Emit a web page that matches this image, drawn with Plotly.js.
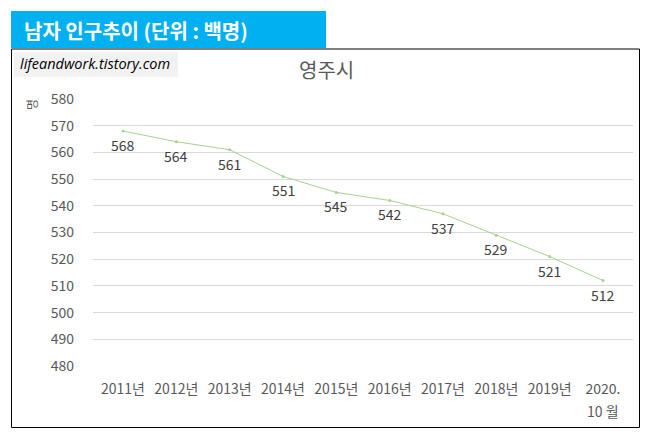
<!DOCTYPE html>
<html>
<head>
<meta charset="utf-8">
<script src="https://cdn.plot.ly/plotly-3.0.1.min.js"></script>
<style>html,body{margin:0;padding:0;background:#fff;}#chart{width:651px;height:437px;}</style>
</head>
<body>
<div id="chart"></div>
<script>
const categories = ['2011년','2012년','2013년','2014년','2015년','2016년','2017년','2018년','2019년','2020.<br>10 월'];
const values = [568, 564, 561, 551, 545, 542, 537, 529, 521, 512];
const yTicks = [480, 490, 500, 510, 520, 530, 540, 550, 560, 570, 580];
const headerText = '남자 인구추이 (단위 : 백명)';
const chartTitle = '영주시';
const watermark = 'lifeandwork.tistory.com';
const unitLabel = '명';

const FONT = '"Noto Sans CJK KR", "Noto Sans", sans-serif';
// plot area pixels: x 93..633, y 99..366
const L = 93, R = 633, T = 99, B = 366;
const px = x => (x - L) / (R - L);
const py = y => (B - y) / (B - T);

const firstLines = categories.map(c => c.split('<br>')[0]);
const secondLines = categories.map(c => c.split('<br>')[1] || '');

const trace = {
  x: categories,
  y: values,
  type: 'scatter',
  mode: 'lines+markers',
  line: {color: '#a9d18e', width: 1},
  marker: {color: '#a9d18e', size: 3},
  cliponaxis: false,
  hoverinfo: 'none'
};

const dataLabels = categories.map((c, i) => ({
  x: c, y: values[i], xref: 'x', yref: 'y',
  text: String(values[i]), showarrow: false,
  xanchor: 'center', yanchor: 'middle', yshift: -14,
  font: {family: FONT, size: 14, color: '#404040'}
}));

const secondLineLabels = categories.map((c, i) => ({c, s: secondLines[i]}))
  .filter(o => o.s)
  .map(o => ({
    x: o.c, xref: 'x', yref: 'paper', y: py(411),
    text: o.s, showarrow: false, xanchor: 'center', yanchor: 'middle',
    font: {family: FONT, size: 14, color: '#595959'}
  }));

const layout = {
  width: 651, height: 437,
  margin: {l: L, r: 651 - R, t: T, b: 437 - B},
  paper_bgcolor: '#ffffff',
  plot_bgcolor: '#ffffff',
  showlegend: false,
  font: {family: FONT, color: '#595959', size: 14},
  xaxis: {
    type: 'category',
    tickvals: categories, ticktext: firstLines,
    showgrid: false, zeroline: false, showline: false,
    ticks: '', tickfont: {family: FONT, size: 14, color: '#595959'},
    ticklabelstandoff: 13
  },
  yaxis: {
    range: [480, 580],
    tickvals: yTicks,
    showgrid: true, gridcolor: '#d9d9d9', gridwidth: 1,
    zeroline: false, showline: false, ticks: '',
    tickfont: {family: FONT, size: 14, color: '#595959'},
    ticklabelstandoff: 18
  },
  shapes: [
    {type: 'rect', xref: 'paper', yref: 'paper', x0: px(11.5), x1: px(639.5), y0: py(427.5), y1: py(49), line: {color: '#000000', width: 1}, fillcolor: 'rgba(0,0,0,0)', layer: 'below'},
    {type: 'rect', xref: 'paper', yref: 'paper', x0: px(11), x1: px(326), y0: py(48), y1: py(11), line: {width: 0}, fillcolor: '#00b0f0', layer: 'below'},
    {type: 'rect', xref: 'paper', yref: 'paper', x0: px(14), x1: px(178), y0: py(77), y1: py(52), line: {width: 0}, fillcolor: '#f2f2f2', layer: 'below'}
  ],
  annotations: [
    {xref: 'paper', yref: 'paper', x: px(22), y: py(30), xanchor: 'left', yanchor: 'middle', showarrow: false,
     text: '<b>' + headerText + '</b>', font: {family: FONT, size: 20, color: '#ffffff'}},
    {xref: 'paper', yref: 'paper', x: px(18), y: py(64), xanchor: 'left', yanchor: 'middle', showarrow: false,
     text: '<i>' + watermark + '</i>', font: {family: '"Open Sans", sans-serif', size: 14.5, color: '#000000'}},
    {xref: 'paper', yref: 'paper', x: px(326), y: py(70), xanchor: 'center', yanchor: 'middle', showarrow: false,
     text: chartTitle, font: {family: FONT, size: 20, color: '#595959'}},
    {xref: 'paper', yref: 'paper', x: px(31), y: py(105), xanchor: 'center', yanchor: 'middle', showarrow: false,
     textangle: -90, text: unitLabel, font: {family: FONT, size: 12, color: '#595959'}}
  ].concat(dataLabels, secondLineLabels)
};

Plotly.newPlot('chart', [trace], layout, {displayModeBar: false, staticPlot: true});
</script>
</body>
</html>
